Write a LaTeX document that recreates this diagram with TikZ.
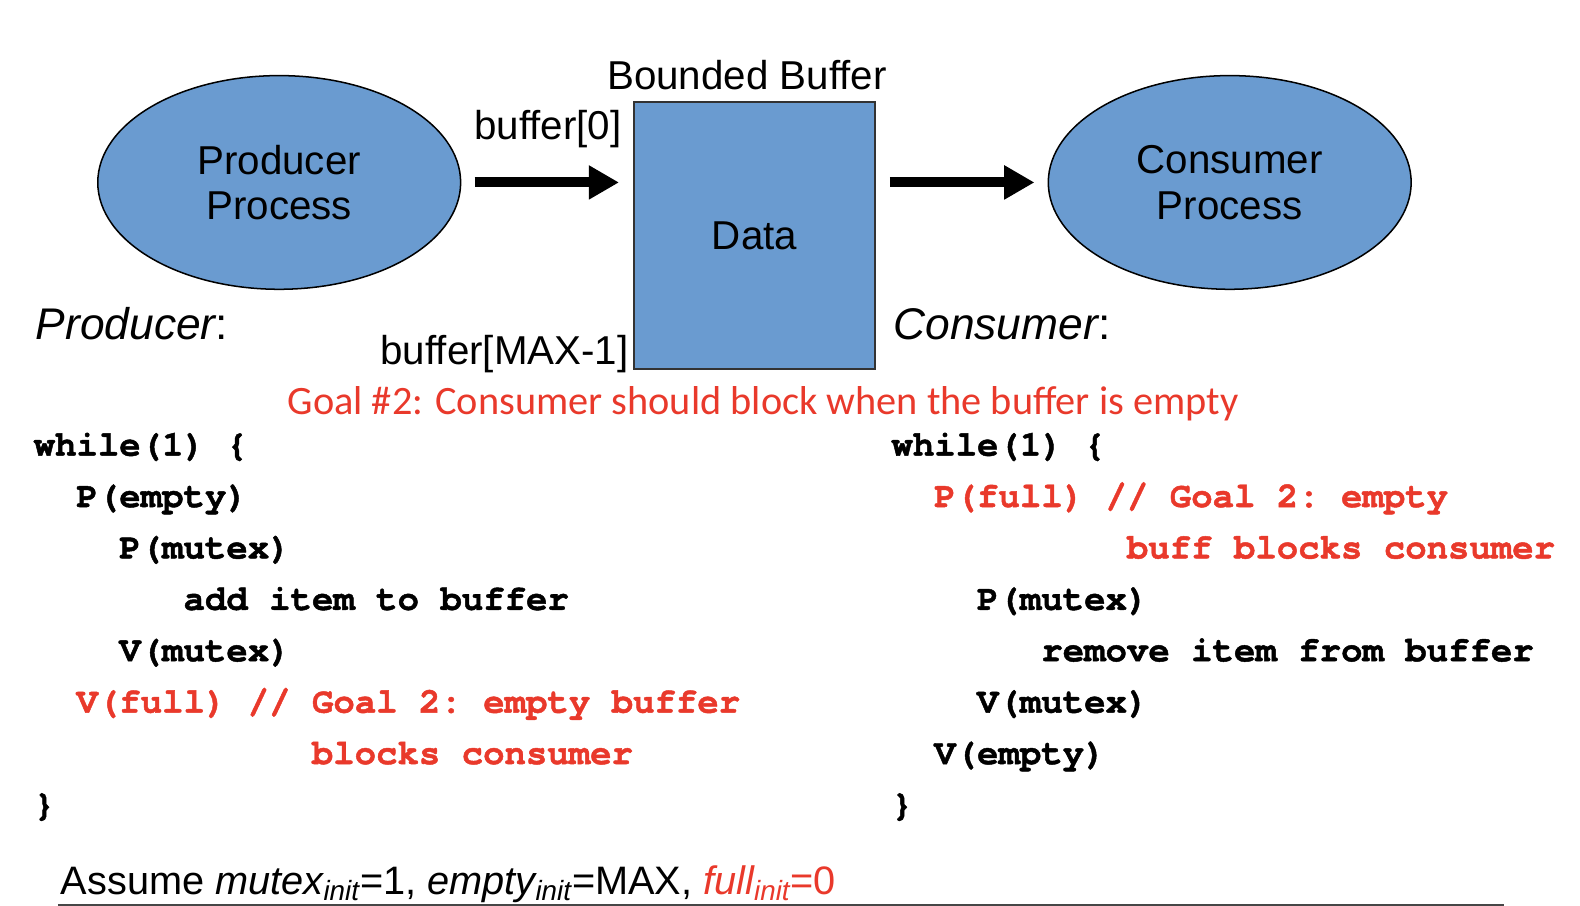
\documentclass[tikz,border=0pt]{standalone}
\usepackage{fontspec}
\setmainfont{Liberation Sans}
\newfontfamily\goalfont{Carlito}
\newfontfamily\codefont{texgyrecursor-bold.otf}[FakeBold=1.3, Ligatures=NoCommon]
\newcommand\courbold{\codefont\fontsize{17.7}{20}\selectfont\frenchspacing}
\usetikzlibrary{shapes.geometric,arrows.meta}
\definecolor{blobblue}{RGB}{106,155,208}
\definecolor{goalred}{RGB}{233,57,43}
\definecolor{rulegray}{RGB}{70,70,70}
\tikzset{
  txt/.style={inner sep=0pt, font=\fontsize{20}{22.5}\selectfont},
  proc/.style={ellipse, draw=black, line width=0.75pt, fill=blobblue, minimum width=180pt, minimum height=106pt, inner sep=0pt, align=center, font=\fontsize{20}{22.5}\selectfont},
  bufbox/.style={rectangle, draw=black!80, line width=0.9pt, fill=blobblue, minimum width=119.5pt, minimum height=132.5pt, inner sep=0pt, font=\fontsize{20}{22.5}\selectfont},
  code/.style={anchor=base west, inner sep=0pt, font=\courbold},
  red/.style={text=goalred},
  fatarrow/.style={line width=5pt, -{Triangle[length=15pt,width=16pt]}},
}
\begin{document}
\begin{tikzpicture}[x=0.5pt,y=-0.5pt]
\useasboundingbox (0,0) rectangle (1567.5,898.8);
% diagram
\node[proc] (prod) at (277,181) {Producer\\Process};
\node[proc] (cons) at (1220,181) {Consumer\\Process};
\node[bufbox] (data) at (748.5,233.5) {Data};
\node[txt, anchor=base] (bbtitle) at (741,89) {Bounded Buffer};
\node[txt, anchor=base east] (b0) at (617,138) {buffer[0]};
\node[txt, anchor=base east] (bmax) at (624,362) {buffer[MAX-1]};
\draw[fatarrow, shorten <=6.5pt, shorten >=7pt] (prod.east) -- (prod.east -| data.west);
\draw[fatarrow, shorten <=7pt, shorten >=6.5pt] (data.east |- cons.west) -- (cons.west);
% headings
\node[txt, anchor=base west, font=\fontsize{22}{24}\selectfont\itshape] (prodlbl) at (35,337) {Producer\upshape:};
\node[txt, anchor=base west, font=\fontsize{22}{24}\selectfont\itshape] (conslbl) at (886,337) {Consumer\upshape:};
\node[inner sep=0pt, anchor=base, text=goalred, font=\goalfont\fontsize{20}{22}\selectfont] (goal) at (757,411) {Goal \#2: Consumer should block when the buffer is empty};
% producer code
\node[code] (p0) at (33,452) {while(1) \{};
\node[code] (p1) at (75.5,503) {P(empty)};
\node[code] (p2) at (118,554) {P(mutex)};
\node[code] (p3) at (181.7,605) {add item to buffer};
\node[code] (p4) at (118,656) {V(mutex)};
\node[code, red] (p5) at (75.5,707) {V(full) // Goal 2: empty buffer};
\node[code, red] (p6) at (309,758) {blocks consumer};
\node[code] (p7) at (33,809) {\}};
% consumer code
\node[code] (c0) at (884,452) {while(1) \{};
\node[code, red] (c1) at (926.5,503) {P(full) // Goal 2: empty};
\node[code, red] (c2) at (1117.6,554) {buff blocks consumer};
\node[code] (c3) at (969,605) {P(mutex)};
\node[code] (c4) at (1032.7,656) {remove item from buffer};
\node[code] (c5) at (969,707) {V(mutex)};
\node[code] (c6) at (926.5,758) {V(empty)};
\node[code] (c7) at (884,809) {\}};
% assumption
\node[txt, anchor=base west, font=\fontsize{19.7}{22}\selectfont] (assume) at (60,887) {Assume \textit{mutex\textsubscript{init}}=1, \textit{empty\textsubscript{init}}=MAX, \textcolor{goalred}{\textit{full\textsubscript{init}}=0}};
\coordinate (ruleL) at (57.5,897.8);
\coordinate (ruleR) at (1492,897.8);
\draw[rulegray, line width=1pt] (ruleL) -- (ruleR);
\end{tikzpicture}
\end{document}
